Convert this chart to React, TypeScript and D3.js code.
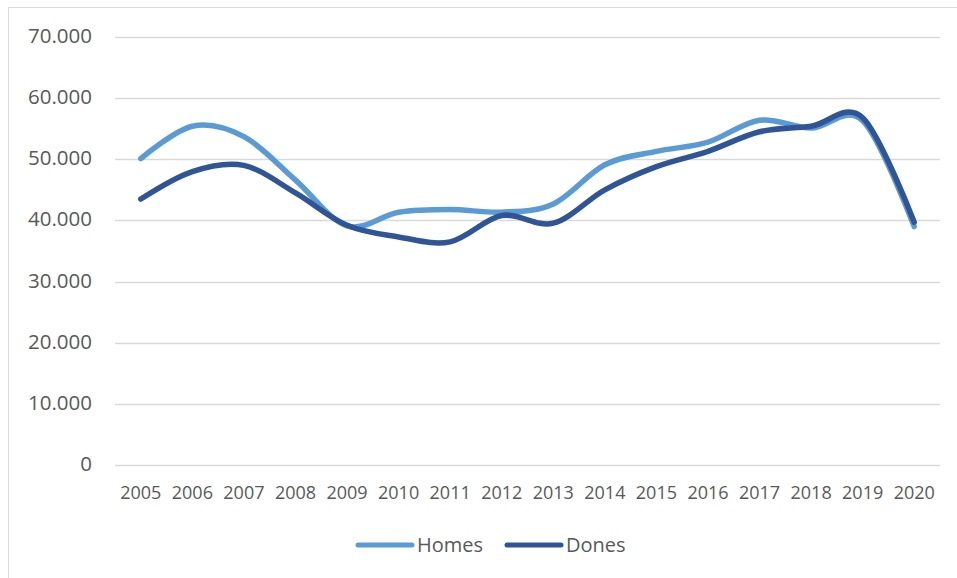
import React, { useEffect, useRef } from 'react';
import * as d3 from 'd3';

const years = ['2005', '2006', '2007', '2008', '2009', '2010', '2011', '2012', '2013', '2014', '2015', '2016', '2017', '2018', '2019', '2020'];
const homes = [50100, 55400, 53700, 46600, 39100, 41350, 41800, 41350, 42700, 49100, 51300, 52800, 56400, 55100, 56300, 39000];
const dones = [43500, 48000, 49000, 44500, 39200, 37300, 36500, 40800, 39550, 45000, 48800, 51300, 54500, 55400, 56800, 39700];
const yTicks = [0, 10000, 20000, 30000, 40000, 50000, 60000, 70000];
const seriesNames = ['Homes', 'Dones'];
const seriesColors = ['#5B9BD5', '#2F5597'];

const App: React.FC = () => {
  const svgRef = useRef<SVGSVGElement>(null);

  useEffect(() => {
    if (!svgRef.current) return;
    const svg = d3.select(svgRef.current);
    svg.selectAll('*').remove();

    const left = 115;
    const right = 940;
    const top = 37;
    const bottom = 465;

    const x = d3.scaleBand<string>().domain(years).range([left, right]);
    const y = d3.scaleLinear().domain([0, 70000]).range([bottom, top]);
    const fmt = (v: number) => (v === 0 ? '0' : d3.format(',')(v).replace(/,/g, '.'));

    // chart border
    svg.append('rect')
      .attr('x', 8.5).attr('y', 7.5)
      .attr('width', 960).attr('height', 600)
      .attr('fill', '#fff')
      .attr('stroke', '#D9D9D9');

    // gridlines
    svg.append('g').selectAll('line')
      .data(yTicks)
      .join('line')
      .attr('x1', left).attr('x2', right)
      .attr('y1', d => Math.round(y(d)) + 0.5)
      .attr('y2', d => Math.round(y(d)) + 0.5)
      .attr('stroke', '#D9D9D9')
      .attr('stroke-width', 1.3);

    // y labels
    svg.append('g').selectAll('text')
      .data(yTicks)
      .join('text')
      .attr('x', 92)
      .attr('y', d => y(d) + 6)
      .attr('text-anchor', 'end')
      .style('font-family', '"Open Sans", sans-serif')
      .style('font-size', '20.5px')
      .style('fill', '#595959')
      .text(d => fmt(d));

    // x labels
    svg.append('g').selectAll('text')
      .data(years)
      .join('text')
      .attr('x', d => (x(d) ?? 0) + x.bandwidth() / 2)
      .attr('y', 499)
      .attr('text-anchor', 'middle')
      .style('font-family', '"Open Sans", sans-serif')
      .style('font-size', '18px')
      .style('fill', '#595959')
      .text(d => d);

    const line = d3.line<number>()
      .x((_, i) => (x(years[i]) ?? 0) + x.bandwidth() / 2)
      .y(d => y(d))
      .curve(d3.curveCardinal.tension(0));

    [homes, dones].forEach((vals, i) => {
      svg.append('path')
        .datum(vals)
        .attr('d', line)
        .attr('fill', 'none')
        .attr('stroke', seriesColors[i])
        .attr('stroke-width', 5.5)
        .attr('stroke-linecap', 'round')
        .attr('stroke-linejoin', 'round');
    });

    // legend
    const legendX = [358, 507];
    seriesNames.forEach((name, i) => {
      const g = svg.append('g').attr('transform', `translate(${legendX[i]}, 545)`);
      g.append('line')
        .attr('x1', 0).attr('x2', 54)
        .attr('y1', 0).attr('y2', 0)
        .attr('stroke', seriesColors[i])
        .attr('stroke-width', 5)
        .attr('stroke-linecap', 'round');
      g.append('text')
        .attr('x', 59)
        .attr('y', 7)
        .style('font-family', '"Open Sans", sans-serif')
        .style('font-size', '20px')
        .style('fill', '#595959')
        .text(name);
    });
  }, []);

  return (
    <div style={{ position: 'absolute', left: 0, top: 0 }}>
      <svg ref={svgRef} width="957" height="578"></svg>
    </div>
  );
};

export default App;
